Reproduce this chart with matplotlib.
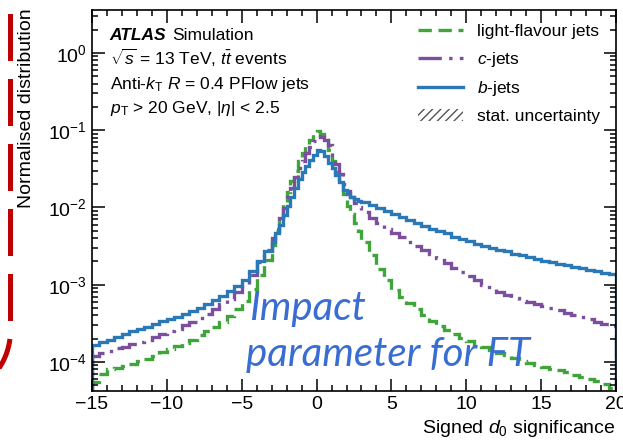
import numpy as np
import matplotlib
matplotlib.use('Agg')
import matplotlib.pyplot as plt
from matplotlib.lines import Line2D
from matplotlib.patches import Patch

plt.rcParams['font.family'] = ['Liberation Sans', 'DejaVu Sans']
plt.rcParams['mathtext.fontset'] = 'custom'
plt.rcParams['mathtext.rm'] = 'Liberation Sans'
plt.rcParams['mathtext.it'] = 'Liberation Sans:italic'
plt.rcParams['mathtext.bf'] = 'Liberation Sans:bold'

# bin edges: 0.5 wide in the tails, 0.25 wide around the peak
edges = np.concatenate([np.arange(-15, -3, 0.5), np.arange(-3, 3, 0.25), np.arange(3, 20.001, 0.5)])

# light-flavour jets
light = [5.5e-5, 7.0e-5, 8.0e-5, 8.3e-5, 8.8e-5, 9.5e-5, 1.02e-4, 1.10e-4, 1.2e-4, 1.35e-4, 1.48e-4, 1.6e-4,
         1.75e-4, 1.95e-4, 2.2e-4, 2.5e-4, 2.85e-4, 3.3e-4, 3.9e-4, 4.8e-4, 6.2e-4, 8.8e-4, 1.35e-3, 2.1e-3,
         3.3e-3, 5.0e-3, 7.5e-3, 0.0110, 0.0160, 0.0220, 0.0300, 0.0400, 0.0510, 0.0620, 0.0740, 0.0900,
         0.0970, 0.0880, 0.0740, 0.0560, 0.0400, 0.0290, 0.0205, 0.0150, 0.0105, 0.0082, 0.0063, 0.0049,
         0.0036, 0.0024, 0.0016, 0.00115, 8.6e-4, 6.9e-4, 5.8e-4, 4.8e-4, 4.0e-4, 3.4e-4, 2.95e-4, 2.6e-4,
         2.3e-4, 2.05e-4, 1.85e-4, 1.68e-4, 1.55e-4, 1.44e-4, 1.32e-4, 1.22e-4, 1.12e-4, 1.04e-4, 9.8e-5, 9.2e-5,
         8.7e-5, 8.2e-5, 7.8e-5, 7.3e-5, 6.8e-5, 6.4e-5, 6.0e-5, 5.6e-5, 5.1e-5, 4.6e-5]

# c-jets
cjets = [1.2e-4, 1.3e-4, 1.4e-4, 1.5e-4, 1.55e-4, 1.7e-4, 1.8e-4, 1.95e-4, 2.1e-4, 2.3e-4, 2.5e-4, 2.7e-4,
         3.0e-4, 3.3e-4, 3.7e-4, 4.2e-4, 4.8e-4, 5.6e-4, 6.6e-4, 8.0e-4, 1.0e-3, 1.35e-3, 1.95e-3, 2.8e-3,
         4.0e-3, 5.3e-3, 7.2e-3, 9.8e-3, 0.0135, 0.0180, 0.0245, 0.0320, 0.0400, 0.0500, 0.0610, 0.0720,
         0.0830, 0.0820, 0.0740, 0.0640, 0.0480, 0.0360, 0.0270, 0.0200, 0.0165, 0.0135, 0.0115, 0.0100,
         0.0086, 0.0074, 0.0063, 0.0053, 0.0046, 0.0041, 0.0036, 0.0032, 0.0028, 0.0025, 0.0022, 0.0019,
         0.00165, 0.00145, 0.00130, 0.00115, 0.00100, 8.8e-4, 8.0e-4, 7.3e-4, 6.7e-4, 6.2e-4, 5.9e-4, 5.6e-4,
         5.3e-4, 5.0e-4, 4.7e-4, 4.3e-4, 4.0e-4, 3.8e-4, 3.6e-4, 3.3e-4, 3.1e-4, 2.9e-4]

# b-jets
bjets = [1.65e-4, 1.8e-4, 1.95e-4, 2.1e-4, 2.3e-4, 2.5e-4, 2.65e-4, 2.85e-4, 3.05e-4, 3.35e-4, 3.55e-4, 3.85e-4,
         4.2e-4, 4.6e-4, 5.0e-4, 5.6e-4, 6.3e-4, 7.2e-4, 8.2e-4, 9.6e-4, 1.15e-3, 1.5e-3, 2.0e-3, 2.7e-3,
         3.6e-3, 4.6e-3, 6.0e-3, 8.0e-3, 0.0105, 0.0135, 0.0180, 0.0230, 0.0285, 0.0340, 0.0410, 0.0480,
         0.0560, 0.0540, 0.0460, 0.0380, 0.0320, 0.0260, 0.0215, 0.0170, 0.0150, 0.0138, 0.0128, 0.0122,
         0.0117, 0.0106, 0.0097, 0.0090, 0.0083, 0.0076, 0.0069, 0.0063, 0.0057, 0.0053, 0.0049, 0.0046,
         0.0042, 0.0039, 0.0037, 0.0034, 0.0032, 0.0030, 0.0028, 0.0027, 0.0025, 0.0024, 0.00225, 0.00215,
         0.00205, 0.00195, 0.00187, 0.00178, 0.00170, 0.00162, 0.00155, 0.00149, 0.00143, 0.00138]

labels = ['light-flavour jets', '$c$-jets', '$b$-jets']
colors = ['#3fa53a', '#7b4f9e', '#2a78b6']

fig = plt.figure(figsize=(6.23, 4.46), dpi=100)
ax = fig.add_axes([92/623, 55/446, 524/623, 381/446])

ax.stairs(light, edges, color=colors[0], lw=2.4, linestyle=(0, (4, 2)))
ax.stairs(cjets, edges, color=colors[1], lw=2.4, linestyle=(0, (7, 2.2, 1, 2.2)))
ax.stairs(bjets, edges, color=colors[2], lw=2.4)

ax.set_yscale('log')
ax.set_xlim(-15, 20)
ax.set_ylim(4.2e-5, 3.6)
ax.set_xticks([-15, -10, -5, 0, 5, 10, 15, 20])
ax.set_xticklabels(['\u221215', '\u221210', '\u22125', '0', '5', '10', '15', '20'])
ax.xaxis.set_minor_locator(matplotlib.ticker.MultipleLocator(1))
ax.yaxis.set_minor_locator(matplotlib.ticker.LogLocator(base=10, subs=np.arange(2, 10), numticks=20))
ax.tick_params(which='both', direction='in', top=True, right=True, labelsize=14, width=1.1)
ax.tick_params(which='major', length=9)
ax.tick_params(which='minor', length=4.5)
for s in ax.spines.values():
    s.set_linewidth(1.2)

ax.set_xlabel('Signed $d_0$ significance', fontsize=14, loc='right')
ax.set_ylabel('Normalised distribution', fontsize=14, loc='top')
ax.yaxis.set_label_coords(-0.108, 1.005)

# ATLAS labels
ax.text(0.034, 0.921, 'ATLAS', transform=ax.transAxes, fontsize=12.5, va='baseline',
        fontweight='bold', style='italic')
ax.text(0.153, 0.921, 'Simulation', transform=ax.transAxes, fontsize=12.5, va='baseline')
ax.text(0.034, 0.856, r'$\sqrt{s}$ = 13 TeV, $t\bar{t}$ events', transform=ax.transAxes, fontsize=12.5, va='baseline')
ax.text(0.034, 0.792, r'Anti-$k_{\mathrm{T}}$ $R$ = 0.4 PFlow jets', transform=ax.transAxes, fontsize=12.5, va='baseline')
ax.text(0.034, 0.730, r'$p_{\mathrm{T}}$ > 20 GeV, |$\eta$| < 2.5', transform=ax.transAxes, fontsize=12.5, va='baseline')

handles = [Line2D([], [], color=colors[0], lw=2.4, linestyle=(0, (4, 2))),
           Line2D([], [], color=colors[1], lw=2.4, linestyle=(0, (7, 2.2, 1, 2.2))),
           Line2D([], [], color=colors[2], lw=2.4),
           Patch(facecolor='none', edgecolor='#555555', hatch='////', lw=0)]
ax.legend(handles, labels + ['stat. uncertainty'], loc='upper right', bbox_to_anchor=(1.0, 1.005),
          frameon=False, fontsize=12.5, handlelength=2.6, labelspacing=0.62, handletextpad=0.8)

# slide overlay
fig.text(249/623, 1 - 320/446, 'Impact', fontsize=29, style='italic', family='Lato', color='#3a6dd2')
fig.text(246/623, 1 - 366/446, 'parameter for FT', fontsize=29, style='italic', family='Lato', color='#3a6dd2')

th = np.linspace(0, np.deg2rad(75), 30)
px = np.concatenate([[10.5, 10.5], -40 + 50.5 * np.cos(th)])
py = np.concatenate([[-5, 330], 330 + 60 * np.sin(th)])
fig.add_artist(Line2D(px / 623, 1 - py / 446, transform=fig.transFigure, color='#c00000', lw=3.6,
                      linestyle=(10, (9.4, 3.6))))

fig.savefig('out.png', dpi=100)
